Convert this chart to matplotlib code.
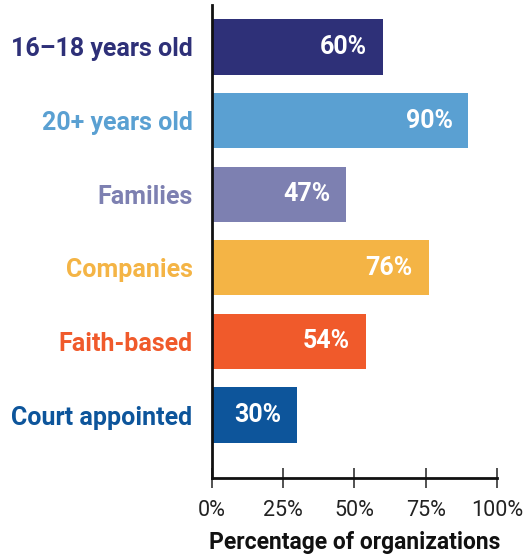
import matplotlib
matplotlib.use('Agg')
import matplotlib.pyplot as plt
from matplotlib.ticker import PercentFormatter

# data
categories = ['16–18 years old', '20+ years old', 'Families', 'Companies',
              'Faith-based', 'Court appointed']
values = [60, 90, 47, 76, 54, 30]
colors = ['#2e3078', '#5aa0d2', '#7d80b1', '#f4b445', '#f05a2b', '#0d559b']
xticks = [0, 25, 50, 75, 100]

plt.rcParams['font.family'] = ['Roboto', 'DejaVu Sans']

fig = plt.figure(figsize=(5.27, 5.58), dpi=100)
ax = fig.add_axes([0.402, 0.144, 0.541, 0.847])

y = list(range(len(categories)))
ax.barh(y, values, height=0.75, color=colors)

# value labels inside the bar ends
for yi, v in zip(y, values):
    ax.text(v - 5.5, yi, f'{v}%', ha='right', va='center', color='white',
            fontsize=18, fontweight='bold')

ax.set_ylim(5.85, -0.57)
ax.set_xlim(0, 100)
ax.set_yticks(y)
ax.set_yticklabels(categories, fontsize=18, fontweight='bold')
for lbl, c in zip(ax.get_yticklabels(), colors):
    lbl.set_color(c)
ax.tick_params(axis='y', length=0, pad=14)

ax.set_xticks(xticks)
ax.xaxis.set_major_formatter(PercentFormatter(decimals=0))
ax.tick_params(axis='x', direction='inout', length=14, width=1.2,
               labelsize=15.5, labelcolor='#222222', pad=9, color='#333333')
ax.set_xlabel('Percentage of organizations', fontsize=16.5, fontweight='bold',
              color='#111111', labelpad=7)

for s in ['top', 'right']:
    ax.spines[s].set_visible(False)
for s in ['left', 'bottom']:
    ax.spines[s].set_linewidth(2)
    ax.spines[s].set_color('#111111')

fig.savefig('out.png', dpi=100)
